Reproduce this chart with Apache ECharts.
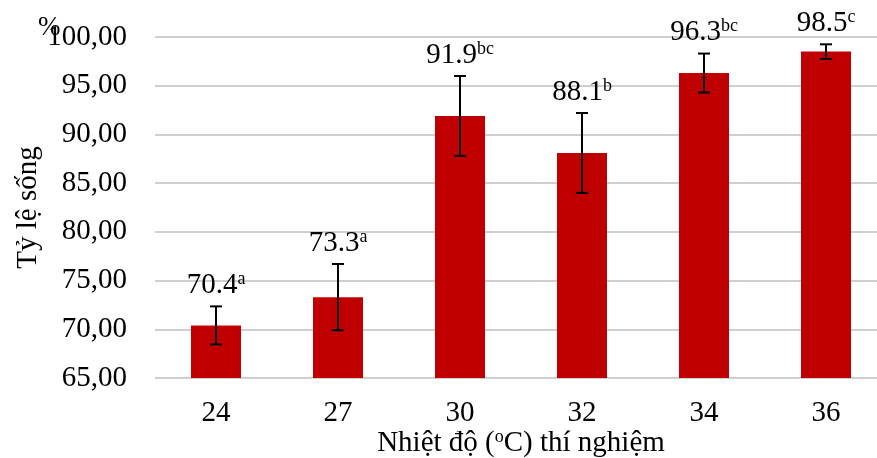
<!DOCTYPE html>
<html>
<head>
<meta charset="utf-8">
<script src="https://cdn.jsdelivr.net/npm/echarts@6/dist/echarts.min.js"></script>
<style>
	html, body {margin: 0; padding: 0; background: #fff;}
	#chart01 {width: 877px; height: 458px;}
</style>
</head>
<body>
<div id="chart01"></div>
<script>
var temps = ['24', '27', '30', '32', '34', '36'];
var survival = [70.4, 73.3, 91.9, 88.1, 96.3, 98.5];
var errSize = [1.95, 3.4, 4.1, 4.1, 2.0, 0.75];
var groups = ['a', 'a', 'bc', 'b', 'bc', 'c'];

var page1 = {
	"chart01": function () {
		var chart = echarts.init(document.getElementById('chart01'));
		var font = 'Liberation Serif';

		var errData = [];
		for (var i = 0; i < survival.length; i++) {
			errData.push([i, survival[i] - errSize[i], survival[i] + errSize[i], survival[i], groups[i]]);
		}

		var option = {
			animation: false,
			textStyle: {fontFamily: font},
			title: {
				text: '%',
				left: 33,
				top: 9,
				textStyle: {fontFamily: font, fontSize: 27, fontWeight: 'normal', color: '#000'}
			},
			grid: {left: 155, top: 37, bottom: 80, width: 732, outerBoundsMode: 'none'},
			xAxis: {
				type: 'category',
				data: temps,
				name: 'Nhiệt độ ({s|o}C) thí nghiệm',
				nameLocation: 'middle',
				nameGap: 50,
				nameMoveOverlap: false,
				nameTextStyle: {
					fontFamily: font, fontSize: 29, color: '#000', lineHeight: 30,
					rich: {s: {fontFamily: font, fontSize: 18, color: '#000', verticalAlign: 'top', lineHeight: 30}}
				},
				axisLine: {show: false},
				axisTick: {show: false},
				axisLabel: {fontFamily: font, fontSize: 29, color: '#000', margin: 21}
			},
			yAxis: {
				type: 'value',
				min: 65,
				max: 100,
				interval: 5,
				name: 'Tỷ lệ sống',
				nameLocation: 'middle',
				nameGap: 112,
				nameMoveOverlap: false,
				nameTextStyle: {fontFamily: font, fontSize: 29, color: '#000'},
				axisLine: {show: false},
				axisTick: {show: false},
				splitLine: {lineStyle: {color: '#BFBFBF', width: 1.5}},
				axisLabel: {
					fontFamily: font, fontSize: 29, color: '#000', margin: 28,
					formatter: function (v) { return v.toFixed(2).replace('.', ','); }
				}
			},
			series: [
				{
					type: 'bar',
					barWidth: 50,
					itemStyle: {color: '#C00000'},
					data: survival
				},
				{
					type: 'custom',
					data: errData,
					z: 10,
					renderItem: function (params, api) {
						var lo = api.coord([api.value(0), api.value(1)]);
						var hi = api.coord([api.value(0), api.value(2)]);
						var w = 6;
						var st = {stroke: '#000', lineWidth: 2};
						var d = errData[params.dataIndex];
						return {
							type: 'group',
							children: [
								{type: 'line', shape: {x1: lo[0], y1: lo[1], x2: hi[0], y2: hi[1]}, style: st},
								{type: 'line', shape: {x1: lo[0] - w, y1: lo[1], x2: lo[0] + w, y2: lo[1]}, style: st},
								{type: 'line', shape: {x1: hi[0] - w, y1: hi[1], x2: hi[0] + w, y2: hi[1]}, style: st},
								{
									type: 'text',
									style: {
										x: hi[0],
										y: hi[1] - 6,
										text: '{n|' + d[3].toFixed(1) + '}{s|' + d[4] + '}',
										align: 'center',
										verticalAlign: 'bottom',
										rich: {
											n: {fontFamily: font, fontSize: 29, color: '#000', lineHeight: 30},
											s: {fontFamily: font, fontSize: 18, color: '#000', verticalAlign: 'top', lineHeight: 30}
										}
									}
								}
							]
						};
					}
				}
			]
		};
		chart.setOption(option);
	}
};
page1.chart01();
</script>
</body>
</html>
